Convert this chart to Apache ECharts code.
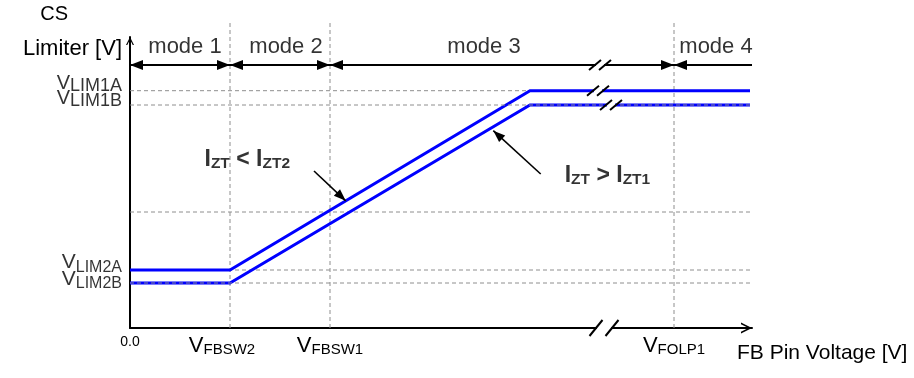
<!DOCTYPE html>
<html>
<head>
<meta charset="utf-8">
<title>CS Limiter vs FB Pin Voltage</title>
<script src="https://cdn.jsdelivr.net/npm/echarts@6.0.0/dist/echarts.min.js"></script>
<style>
  html, body { margin: 0; padding: 0; background: #ffffff; }
  #chart { width: 914px; height: 378px; }
</style>
</head>
<body>
<div id="chart"></div>
<script>
// ---- data (schematic, arbitrary units) ----
// FB pin voltage reference points
const xMarks      = [0, 1.0, 2.0, 5.44];
const xMarkLabels = ['0.0', 'V_FBSW2', 'V_FBSW1', 'V_FOLP1'];
// CS limiter reference levels
const yMarks      = [0.45, 0.58, 2.23, 2.373];
const yMarkLabels = ['V_LIM2B', 'V_LIM2A', 'V_LIM1B', 'V_LIM1A'];
const midLevel    = 1.16;

// CS limiter characteristic: upper for I_ZT < I_ZT2, lower for I_ZT > I_ZT1
const curveX  = [0, 1.0, 4.0, 6.2];
const curveUp = [0.58, 0.58, 2.373, 2.373];
const curveLo = [0.45, 0.45, 2.23, 2.23];

// operating modes along the FB axis
const modeNames  = ['mode 1', 'mode 2', 'mode 3', 'mode 4'];
const modeBounds = [0, 1.0, 2.0, 5.44, 6.22];

// callouts: text, arrow tail, arrow head
const noteTexts = ['I_ZT < I_ZT2', 'I_ZT > I_ZT1'];
const noteTails = [[1.84, 1.57], [4.107, 1.54]];
const noteHeads = [[2.157, 1.272], [3.633, 1.973]];

// ---- layout & style ----
const FONT = '"Liberation Sans", Arial, Helvetica, sans-serif';
const X_MAX = 6.22, Y_MAX = 2.91;
const MODE_ROW = 2.63;     // level of the mode arrows
const GUIDE_TOP = 3.07;    // vertical guides reach above the plot top
const GUIDE = { color: '#8e8e8e', width: 1, type: [4, 3] };
const BLUE = '#0000ff';
const OPEN_ARROW = 'path://M0,10 L5,0 L10,10 L8.4,10 L5,3.2 L1.6,10 Z';
const MODE_DX = [5, 6, -18, 3];
const MODE_HEAD = [10, 13];
const NOTE_HEAD = [9, 12];
const Y_LABEL_DY = [-4, -7.3, -6.2, -7.6];   // per level label nudge (px)

// "//" axis-break marks: [x, y, style]
const breakAt = [[4.70, MODE_ROW, 0], [4.68, curveUp[3], 0], [4.81, curveLo[3], 0], [4.74, 0, 1]];
const BREAK_STYLE = [{ hw: 6, hh: 5, sep: 10 }, { hw: 6.5, hh: 8, sep: 16 }];

// turn "V_LIM1A" into rich text with a subscript
function sub(str, big, small) {
  return str.split(/_([A-Za-z0-9]+)/)
    .map((t, i) => t ? '{' + (i % 2 ? small : big) + '|' + t + '}' : '')
    .join('');
}
const near = (a, b) => Math.abs(a - b) < 1e-9;
const txt = { fontFamily: FONT, color: '#000' };
const plainLabel = { color: '#000', textBorderWidth: 0, textShadowBlur: 0 };

const guide = (data, z) => ({
  type: 'line', data, z, clip: false, symbol: 'none', silent: true, lineStyle: GUIDE
});

const series = [];
// vertical guides at V_FBSW2, V_FBSW1, V_FOLP1
xMarks.slice(1).forEach(x => series.push(guide([[x, 0], [x, GUIDE_TOP]], 1)));
// horizontal guides; the "B" levels are drawn over the curves
yMarks.forEach((y, i) =>
  series.push(guide([[0, y], [X_MAX, y]], yMarkLabels[i].endsWith('B') ? 4 : 1)));
series.push(guide([[0, midLevel], [X_MAX, midLevel]], 1));

// limiter curves
[curveUp, curveLo].forEach(ys => series.push({
  type: 'line', z: 3, symbol: 'none', silent: true,
  data: curveX.map((x, i) => [x, ys[i]]),
  lineStyle: { color: BLUE, width: 3, join: 'miter' }
}));

// level names left of the vertical axis (subscript pushed down by token padding)
series.push({
  type: 'scatter', z: 5, symbolSize: 0, silent: true, clip: false,
  data: yMarks.map((y, i) => ({
    value: [0, y],
    label: { offset: [-8, Y_LABEL_DY[i]] }
  })),
  label: Object.assign({
    show: true, position: 'inside', align: 'right', verticalAlign: 'middle',
    formatter: p => {
      const name = yMarkLabels[p.dataIndex];
      const lvl2 = name.indexOf('LIM2') >= 0;
      return sub(name, lvl2 ? 'v2' : 'v1', lvl2 ? 's2' : 's1');
    },
    rich: {
      v1: Object.assign({ fontSize: 20, lineHeight: 22 }, txt),
      s1: Object.assign({ fontSize: 18, lineHeight: 22, padding: [5.4, 0, 0, 0] }, txt),
      v2: Object.assign({ fontSize: 21, lineHeight: 22 }, txt),
      s2: Object.assign({ fontSize: 16, lineHeight: 22, padding: [9.5, 0, 0, 0] }, txt)
    }
  }, plainLabel)
});

// mode labels with their double arrows
series.push({
  type: 'scatter', z: 5, symbolSize: 0, silent: true,
  data: modeNames.map((n, i) => ({
    value: [(modeBounds[i] + modeBounds[i + 1]) / 2, MODE_ROW, n],
    label: { offset: [MODE_DX[i], -18] }
  })),
  label: Object.assign({
    show: true, position: 'inside', fontSize: 22, fontFamily: FONT,
    formatter: p => p.data.value[2]
  }, plainLabel),
  markLine: {
    silent: true, animation: false,
    symbol: ['triangle', 'triangle'],
    symbolSize: 12,
    symbolOffset: [[0, 6.5], [0, 6.5]],
    lineStyle: { color: '#000', width: 2, type: 'solid' },
    itemStyle: { color: '#000' },
    label: { show: false },
    emphasis: { disabled: true },
    data: modeNames.map((n, i) => [
      { coord: [modeBounds[i], MODE_ROW], symbolSize: MODE_HEAD },
      { coord: [modeBounds[i + 1], MODE_ROW], symbolSize: MODE_HEAD,
        symbol: i === modeNames.length - 1 ? 'none' : 'triangle' }
    ])
  }
});

// callout texts with arrows
series.push({
  type: 'scatter', z: 5, symbolSize: 0, silent: true,
  data: noteTails.map((t, i) => ({
    value: t,
    label: i === 0 ? { align: 'right', offset: [-24, -11] } : { align: 'left', offset: [24, 2] }
  })),
  label: Object.assign({
    show: true, position: 'inside',
    formatter: p => sub(noteTexts[p.dataIndex], 'b', 'bs'),
    rich: {
      b: { fontSize: 23, fontWeight: 'bold', fontFamily: FONT, color: '#000', lineHeight: 24 },
      bs: { fontSize: 15.5, fontWeight: 'bold', fontFamily: FONT, color: '#000', lineHeight: 12, verticalAlign: 'bottom' }
    }
  }, plainLabel),
  markLine: {
    silent: true, animation: false,
    symbol: ['none', 'triangle'],
    symbolSize: 12,
    symbolOffset: [[0, 6], [0, 6]],
    lineStyle: { color: '#000', width: 1.6, type: 'solid' },
    itemStyle: { color: '#000' },
    label: { show: false },
    emphasis: { disabled: true },
    data: noteTails.map((t, i) => [
      { coord: t, symbolSize: NOTE_HEAD },
      { coord: noteHeads[i], symbolSize: NOTE_HEAD }
    ])
  }
});

// axis-break marks
series.push({
  type: 'custom', z: 6, silent: true,
  data: breakAt,
  renderItem: (params, api) => {
    const c = api.coord([api.value(0), api.value(1)]);
    const s = BREAK_STYLE[api.value(2)];
    const kids = [{
      type: 'rect',
      shape: { x: c[0] - s.sep / 2 + 1, y: c[1] - 3, width: s.sep - 2, height: 6 },
      style: { fill: '#fff' }
    }];
    [-1, 1].forEach(k => {
      const cx = c[0] + k * s.sep / 2;
      kids.push({
        type: 'line',
        shape: { x1: cx - s.hw, y1: c[1] + s.hh, x2: cx + s.hw, y2: c[1] - s.hh },
        style: { stroke: '#000', lineWidth: 2 }
      });
    });
    return { type: 'group', children: kids };
  }
});

const option = {
  animation: false,
  backgroundColor: '#fff',
  grid: { left: 130, right: 162, top: 37, bottom: 50, containLabel: false, outerBoundsMode: 'none' },
  xAxis: {
    type: 'value', min: 0, max: X_MAX,
    name: 'FB Pin Voltage [V]', nameLocation: 'end', nameGap: -15,
    nameTextStyle: Object.assign({ fontSize: 21, lineHeight: 21, align: 'left', verticalAlign: 'top', padding: [15, 0, 0, 0] }, txt),
    axisLine: {
      show: true, onZero: false, lineStyle: { color: '#000', width: 2 },
      symbol: ['none', OPEN_ARROW], symbolSize: [11, 11], symbolOffset: [0, -5.5]
    },
    axisTick: { show: false },
    splitLine: { show: false },
    axisLabel: {
      customValues: xMarks, margin: 7, verticalAlign: 'top',
      showMinLabel: true, showMaxLabel: true, hideOverlap: false,
      formatter: v => {
        const i = xMarks.findIndex(m => near(m, v));
        if (i < 0) return '';
        if (i === 0) return '{z|' + xMarkLabels[0] + '}';
        return sub(xMarkLabels[i], 'v', i === 1 ? 'sl' : 's');
      },
      rich: {
        z: Object.assign({ fontSize: 14, lineHeight: 14 }, txt),
        v: Object.assign({ fontSize: 22, lineHeight: 22 }, txt),
        s: Object.assign({ fontSize: 15, lineHeight: 12, verticalAlign: 'bottom' }, txt),
        sl: Object.assign({ fontSize: 15, lineHeight: 12, verticalAlign: 'bottom', padding: [0, 16, 0, 0] }, txt)
      }
    }
  },
  yAxis: {
    type: 'value', min: 0, max: Y_MAX,
    name: '{cs|CS}\n{lim|Limiter [V]}', nameLocation: 'end', nameGap: 38,
    nameTextStyle: {
      align: 'right', verticalAlign: 'top', padding: [0, 8, 0, 0],
      rich: {
        cs: Object.assign({ fontSize: 20, lineHeight: 30, padding: [0, 54, 0, 0] }, txt),
        lim: Object.assign({ fontSize: 22, lineHeight: 40 }, txt)
      }
    },
    axisLine: {
      show: true, onZero: false, lineStyle: { color: '#000', width: 2 },
      symbol: ['none', OPEN_ARROW], symbolSize: [8, 8], symbolOffset: [0, -4]
    },
    axisTick: { show: false },
    splitLine: { show: false },
    axisLabel: { show: false }
  },
  series
};

const chart = echarts.init(document.getElementById('chart'));
chart.setOption(option);
</script>
</body>
</html>
